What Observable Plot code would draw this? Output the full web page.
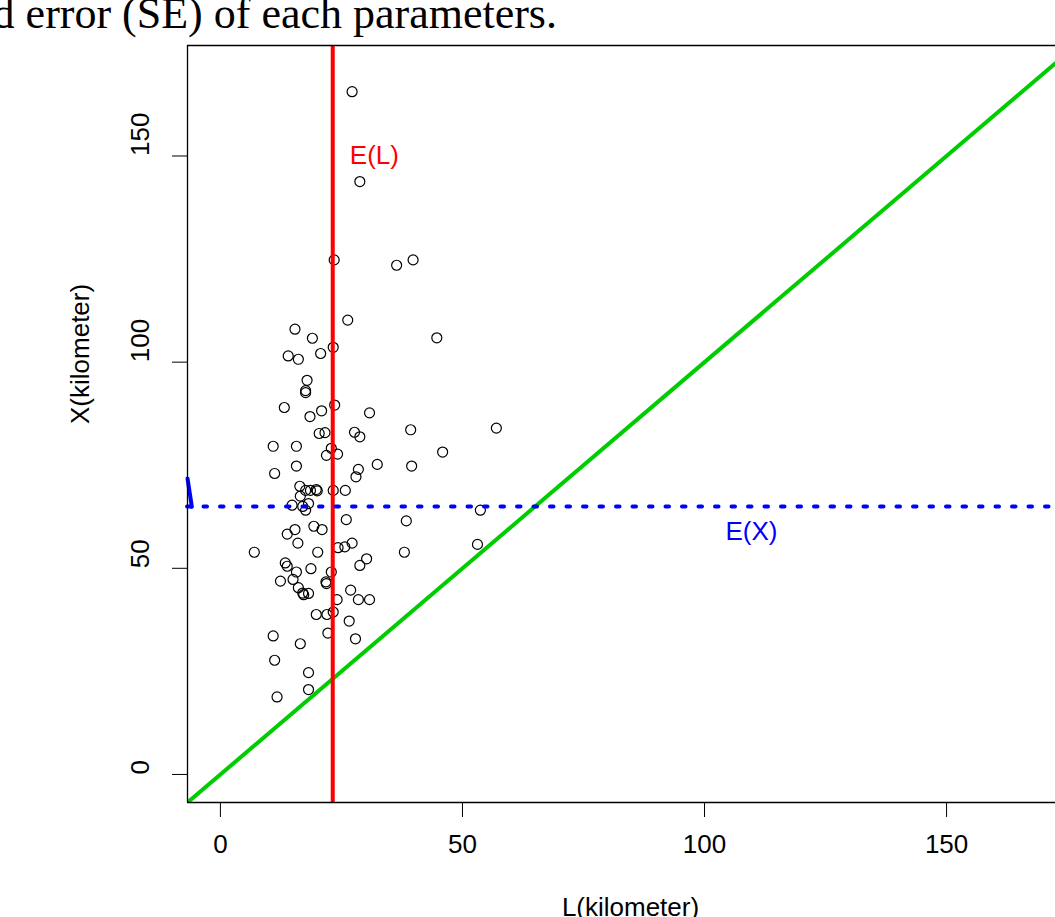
<!DOCTYPE html>
<html>
<head>
<meta charset="utf-8">
<script src="https://cdn.jsdelivr.net/npm/d3@7"></script>
<script src="https://cdn.jsdelivr.net/npm/@observablehq/plot@0.6"></script>
<style>
html, body { margin: 0; padding: 0; overflow: hidden; background: #fff; width: 1055px; height: 917px; }
#wrap { position: relative; width: 1055px; height: 917px; }
#chart { position: absolute; left: 0; top: 0; }
#caption { position: absolute; left: 557px; top: -8px; transform: translateX(-100%);
  font-family: "Liberation Serif", "Times New Roman", serif; font-size: 44px; line-height: 1;
  white-space: nowrap; color: #000; }
</style>
</head>
<body>
<div id="wrap"><div id="chart"></div><div id="caption"></div></div>
<script>
// ---- data ----
const captionText = "standard error (SE) of each parameters.";
const xTicks = [0, 50, 100, 150];
const yTicks = [0, 50, 100, 150];
const xTitle = "L(kilometer)";
const yTitle = "X(kilometer)";
const axisLimits = [-6.8, 176.8];   // R xlim/ylim c(0,170) with 4% expansion
const visibleXMax = 172.5;          // right edge of the cropped figure

const L = [27.2, 28.8, 23.5, 36.4, 39.8, 26.3, 15.4, 19.0, 44.7, 14.0,
  16.1, 20.7, 23.3, 17.9, 17.6, 17.6, 13.2, 18.5, 20.9, 23.6,
  30.8, 20.4, 21.6, 27.7, 28.8, 39.3, 57.0, 10.9, 15.7, 22.9,
  21.9, 24.2, 45.9, 15.7, 11.2, 28.5, 28.0, 32.4, 39.5, 16.4,
  17.6, 18.6, 19.8, 20.0, 23.3, 25.8, 16.5, 14.8, 17.0, 18.2,
  17.6, 26.0, 38.4, 53.7, 19.3, 13.8, 15.4, 21.0, 16.0, 27.2,
  24.3, 25.7, 7.0, 20.1, 38.0, 53.1, 30.2, 28.8, 13.4, 13.8,
  15.7, 18.7, 22.9, 12.4, 15.0, 16.1, 17.0, 17.2, 18.2, 21.8,
  21.9, 24.1, 26.9, 28.5, 30.8, 19.8, 22.0, 23.3, 26.6, 22.2,
  27.9, 10.9, 16.5, 11.2, 18.2, 18.2, 11.7];
const X = [165.6, 143.8, 124.8, 123.5, 124.8, 110.2, 108.0, 105.8, 105.9, 101.5,
  100.7, 102.1, 103.6, 95.6, 93.1, 92.6, 89.0, 86.8, 88.2, 89.6,
  87.7, 82.7, 82.9, 83.0, 81.9, 83.6, 84.0, 79.6, 79.6, 79.1,
  77.4, 77.7, 78.2, 74.8, 73.0, 74.0, 72.2, 75.2, 74.8, 69.9,
  68.9, 68.9, 69.1, 68.8, 68.9, 68.9, 67.5, 65.3, 65.0, 65.7,
  64.1, 61.8, 61.5, 64.1, 60.2, 58.3, 59.4, 59.4, 56.1, 56.1,
  55.0, 55.2, 53.9, 53.9, 53.9, 55.8, 52.3, 50.7, 51.3, 50.5,
  49.1, 49.9, 49.1, 46.9, 47.3, 45.3, 44.0, 43.6, 43.9, 46.7,
  46.3, 42.4, 44.7, 42.4, 42.4, 38.8, 38.8, 39.4, 37.2, 34.3,
  32.9, 33.6, 31.7, 27.7, 24.7, 20.6, 18.8];

const meanL = 23.2;   // E(L)
const meanX = 65.0;   // E(X)
const labelEL = {x: 31.8, y: 150, text: "E(L)"};
const labelEX = {x: 109.7, y: 59.0, text: "E(X)"};
const edgeSegL = [-6.8, -5.9];     // short blue stroke at left edge
const edgeSegX = [71.8, 64.9];

// ---- build tables ----
const points = L.map((l, i) => ({L: l, X: X[i]}));
const diagonal = axisLimits.map(v => ({v}));
const edgeSeg = edgeSegL.map((l, i) => ({L: l, X: edgeSegX[i]}));

const green = "#00CD00", red = "#FF0000", blue = "#0000FF";

const chart = Plot.plot({
  width: 1055,
  height: 917,
  marginLeft: 187,
  marginRight: 0,
  marginTop: 45,
  marginBottom: 115,
  style: {fontFamily: "'Liberation Sans', Arial, Helvetica, sans-serif", fontSize: "26px", background: "transparent", color: "#000"},
  x: {domain: [axisLimits[0], visibleXMax], ticks: xTicks, tickSize: 15, tickFormat: () => "", label: null},
  y: {domain: axisLimits, ticks: yTicks, tickSize: 15, tickFormat: () => "", label: null},
  marks: [
    Plot.dot(points, {x: "L", y: "X", r: 5, stroke: "#000", strokeWidth: 1.2, fill: "none"}),
    Plot.line(diagonal, {x: "v", y: "v", stroke: green, strokeWidth: 4, clip: true}),
    Plot.ruleX([meanL], {stroke: red, strokeWidth: 4}),
    Plot.ruleY([meanX], {stroke: blue, strokeWidth: 4, strokeDasharray: "3.5,13", strokeLinecap: "round"}),
    Plot.line(edgeSeg, {x: "L", y: "X", stroke: blue, strokeWidth: 4}),
    Plot.text([labelEL], {x: "x", y: "y", text: "text", fill: red, fontSize: 26}),
    Plot.text([labelEX], {x: "x", y: "y", text: "text", fill: blue, fontSize: 26}),
    // box (left, top, bottom)
    Plot.ruleX([axisLimits[0]], {stroke: "#000", strokeWidth: 1.3}),
    Plot.ruleY([axisLimits[0], axisLimits[1]], {stroke: "#000", strokeWidth: 1.3}),
    // tick labels
    Plot.text(xTicks, {x: d => d, text: d => String(d), frameAnchor: "bottom", dy: 50, fontSize: 26}),
    Plot.text(yTicks, {y: d => d, text: d => String(d), frameAnchor: "left", dx: -47, rotate: -90, fontSize: 26}),
    // axis titles
    Plot.text([xTitle], {text: d => d, frameAnchor: "bottom", dx: 9, dy: 113, fontSize: 26}),
    Plot.text([yTitle], {text: d => d, frameAnchor: "left", dx: -107, rotate: -90, fontSize: 26})
  ]
});
document.getElementById("chart").appendChild(chart);
document.getElementById("caption").textContent = captionText;
</script>
</body>
</html>
